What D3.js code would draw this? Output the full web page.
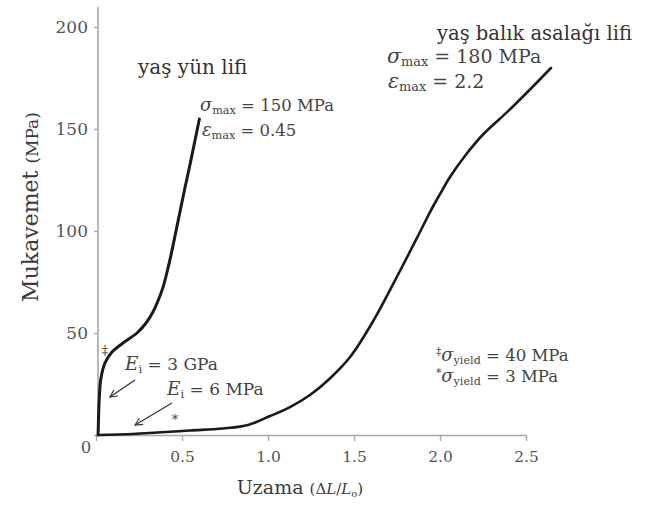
<!DOCTYPE html>
<html>
<head>
<meta charset="utf-8">
<script src="https://cdn.jsdelivr.net/npm/d3@7"></script>
<style>
  html, body { margin: 0; padding: 0; background: #fff; }
  svg { display: block; }
</style>
</head>
<body>
<svg id="chart" width="646" height="509"></svg>
<script>
// ---- data ----
const xTicks = [0, 0.5, 1.0, 1.5, 2.0, 2.5];
const yTicks = [0, 50, 100, 150, 200];

// wet wool fibre (strain, stress MPa)
const woolStrain = [0.012, 0.0145, 0.020, 0.029, 0.052, 0.093, 0.157, 0.238, 0.291, 0.331, 0.360, 0.390, 0.413, 0.436, 0.459, 0.488, 0.517, 0.547, 0.576, 0.601];
const woolStress = [0, 7.4, 19.6, 27.9, 35.3, 40.7, 45.1, 50.0, 54.9, 60.3, 65.7, 72.5, 79.9, 88.2, 97.5, 109.3, 121.1, 132.8, 144.6, 154.9];

// wet hagfish slime thread (strain, stress MPa)
const fishStrain = [0.012, 0.215, 0.355, 0.547, 0.738, 0.884, 1.012, 1.128, 1.244, 1.360, 1.477, 1.605, 1.767, 1.866, 1.942, 2.0, 2.058, 2.145, 2.250, 2.39, 2.506, 2.645];
const fishStress = [0, 0.5, 1.2, 2.2, 3.2, 4.9, 9.3, 13.7, 19.6, 27.7, 38.2, 54.9, 80.4, 96.6, 109.3, 118.1, 126.5, 136.8, 147.3, 158.3, 167.9, 179.9];

// ---- chart ----
const FONT = "DejaVu Serif";
const svg = d3.select("#chart").attr("font-family", FONT);
const x = d3.scaleLinear().domain([0, 2.5]).range([96, 526]);
const y = d3.scaleLinear().domain([0, 200]).range([435, 27]);

const axisColor = "#a8a8a8";
const tickText = "#555";

// x axis
const gx = svg.append("g").attr("transform", `translate(0,${y(0)})`)
  .call(d3.axisBottom(x).tickValues(xTicks).tickSize(6).tickSizeOuter(0)
    .tickFormat(d => d === 0 ? "" : d3.format(".1f")(d)));
gx.attr("font-family", FONT);
gx.select(".domain").attr("stroke", axisColor).attr("stroke-width", 1.6);
gx.selectAll(".tick line").attr("stroke", axisColor).attr("stroke-width", 1.4);
gx.selectAll(".tick text").attr("fill", tickText).attr("font-size", 15.5).attr("dy", "1.15em");

// y axis
const gy = svg.append("g").attr("transform", `translate(${x(0) + 2},0)`)
  .call(d3.axisLeft(y).tickValues(yTicks).tickSize(4).tickSizeOuter(0)
    .tickFormat(d => d === 0 ? "" : d));
gy.attr("font-family", FONT);
gy.select(".domain").attr("stroke", axisColor).attr("stroke-width", 1.6)
  .attr("d", `M0,${y(0)}V7`);
gy.selectAll(".tick line").attr("stroke", axisColor).attr("stroke-width", 1.4);
gy.selectAll(".tick text").attr("fill", tickText).attr("font-size", 17).attr("x", -10);

// shared origin label
svg.append("text").attr("x", 86).attr("y", 453).attr("text-anchor", "middle")
  .attr("fill", tickText).attr("font-size", 16.5).text("0");

// axis titles
const xt = svg.append("text").attr("x", 300).attr("y", 494).attr("text-anchor", "middle")
  .attr("fill", "#3a3a3a");
xt.append("tspan").attr("font-size", 19).text("Uzama ");
xt.append("tspan").attr("font-size", 15).text("(Δ");
xt.append("tspan").attr("font-size", 15).attr("font-style", "italic").text("L");
xt.append("tspan").attr("font-size", 15).text("/");
xt.append("tspan").attr("font-size", 15).attr("font-style", "italic").text("L");
xt.append("tspan").attr("font-size", 10).attr("dy", 3).text("o");
xt.append("tspan").attr("font-size", 15).attr("dy", -3).text(")");

const yt = svg.append("text").attr("transform", "translate(38,207) rotate(-90)")
  .attr("text-anchor", "middle").attr("fill", "#3a3a3a");
yt.append("tspan").attr("font-size", 22).text("Mukavemet ");
yt.append("tspan").attr("font-size", 17).text("(MPa)");

// curves
const line = d3.line().x(d => x(d[0])).y(d => y(d[1])).curve(d3.curveCatmullRom.alpha(0.5));
svg.append("path").datum(d3.zip(woolStrain, woolStress))
  .attr("d", line).attr("fill", "none").attr("stroke", "#1a1a1a")
  .attr("stroke-width", 3).attr("stroke-linecap", "round").attr("stroke-linejoin", "round");
svg.append("path").datum(d3.zip(fishStrain, fishStress))
  .attr("d", line).attr("fill", "none").attr("stroke", "#1a1a1a")
  .attr("stroke-width", 2.6).attr("stroke-linecap", "round").attr("stroke-linejoin", "round");

// arrow markers
svg.append("defs").append("marker").attr("id", "arr")
  .attr("viewBox", "0 0 10 10").attr("refX", 9).attr("refY", 5)
  .attr("markerWidth", 9).attr("markerHeight", 9).attr("orient", "auto")
  .attr("markerUnits", "userSpaceOnUse")
  .append("path").attr("d", "M1,1 L9,5 L1,9").attr("fill", "none")
  .attr("stroke", "#333").attr("stroke-width", 1.3);

const arrows = [
  { x1: 0.227, y1: 27, x2: 0.081, y2: 18.6 },
  { x1: 0.442, y1: 15.7, x2: 0.227, y2: 4.9 }
];
svg.selectAll(".arrow").data(arrows).enter().append("line")
  .attr("x1", d => x(d.x1)).attr("y1", d => y(d.y1))
  .attr("x2", d => x(d.x2)).attr("y2", d => y(d.y2))
  .attr("stroke", "#333").attr("stroke-width", 1.3).attr("marker-end", "url(#arr)");

// annotation helper
const annColor = "#444";
function symText(xp, yp, sym, sub, rest, size, pre) {
  const t = svg.append("text").attr("x", xp).attr("y", yp).attr("fill", annColor).attr("font-size", size);
  if (pre) t.append("tspan").attr("font-size", size * 0.65).attr("dy", -6).text(pre);
  t.append("tspan").attr("font-style", "italic").attr("font-size", size * 1.08).attr("dy", pre ? 6 : 0).text(sym);
  t.append("tspan").attr("font-size", size * 0.68).attr("dy", 3).text(sub);
  t.append("tspan").attr("dy", -3).text(rest);
  return t;
}

// labels
svg.append("text").attr("x", 138).attr("y", 74).attr("fill", "#333").attr("font-size", 20).text("yaş yün lifi");
svg.append("text").attr("x", 437).attr("y", 40).attr("fill", "#333").attr("font-size", 19.5).text("yaş balık asalağı lifi");

symText(200, 111, "σ", "max", " = 150 MPa", 16.5);
symText(202, 136, "ε", "max", " = 0.45", 16.5);
symText(387, 63, "σ", "max", " = 180 MPa", 19);
symText(388, 88, "ε", "max", " = 2.2", 19);

symText(125, 370, "E", "i", " = 3 GPa", 17);
symText(167, 395, "E", "i", " = 6 MPa", 17);

symText(436, 361, "σ", "yield", " = 40 MPa", 16.5, "‡");
symText(436, 382, "σ", "yield", " = 3 MPa", 16.5, "*");

svg.append("text").attr("x", 105).attr("y", 355).attr("text-anchor", "middle")
  .attr("fill", annColor).attr("font-size", 12).text("‡");
svg.append("text").attr("x", 175).attr("y", 424).attr("text-anchor", "middle")
  .attr("fill", annColor).attr("font-size", 13).text("*");
</script>
</body>
</html>
